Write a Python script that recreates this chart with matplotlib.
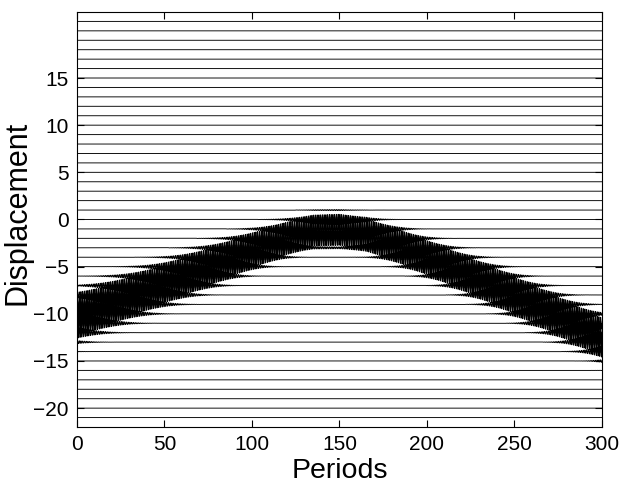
import numpy as np
import matplotlib
matplotlib.use("Agg")
import matplotlib.pyplot as plt

plt.rcParams['font.family'] = ['Liberation Sans', 'DejaVu Sans']

# lattice sites (equilibrium positions of the chains)
sites = list(range(-21, 22))

# packet centre and width, at a few periods
track_periods = [0, 25, 50, 75, 100, 120, 135, 150, 165, 185, 210, 240, 270, 300]
track_centre = [-10.3, -8.55, -6.8, -5.05, -3.3, -2.0, -1.2, -1.1, -1.6, -2.9, -4.8, -7.2, -9.8, -12.5]
track_width = [1.9, 1.8, 1.7, 1.6, 1.45, 1.3, 1.2, 1.2, 1.25, 1.35, 1.45, 1.55, 1.65, 1.7]

peak_amp = 1.3

xticks = [0, 50, 100, 150, 200, 250, 300]
yticks = [-20, -15, -10, -5, 0, 5, 10, 15]

t = np.linspace(0, 300, 6001)
centre = np.interp(t, track_periods, track_centre)
width = np.interp(t, track_periods, track_width)

fig = plt.figure(figsize=(6.32, 4.87), dpi=100)
ax = fig.add_axes([0.1218, 0.1232, 0.8307, 0.8522])

for n in sites:
    env = peak_amp * np.exp(-((n - centre) / width) ** 2)
    y = n + env * np.sin(2 * np.pi * t)
    ax.plot(t, y, color='k', lw=0.65)

ax.set_xlim(0, 300)
ax.set_ylim(-22, 22)
ax.set_xticks(xticks)
ax.set_yticks(yticks)
ax.set_yticklabels([str(v).replace('-', '\u2212') for v in yticks])
ax.tick_params(direction='in', length=5, top=True, right=True, labelsize=15, pad=6)
for s in ax.spines.values():
    s.set_linewidth(0.8)

ax.set_xlabel('Periods', fontsize=20.5)
ax.set_ylabel('Displacement', fontsize=22)
ax.xaxis.set_label_coords(0.5, -0.075)
ax.yaxis.set_label_coords(-0.084, 0.515)

fig.savefig('out.png', dpi=100)
